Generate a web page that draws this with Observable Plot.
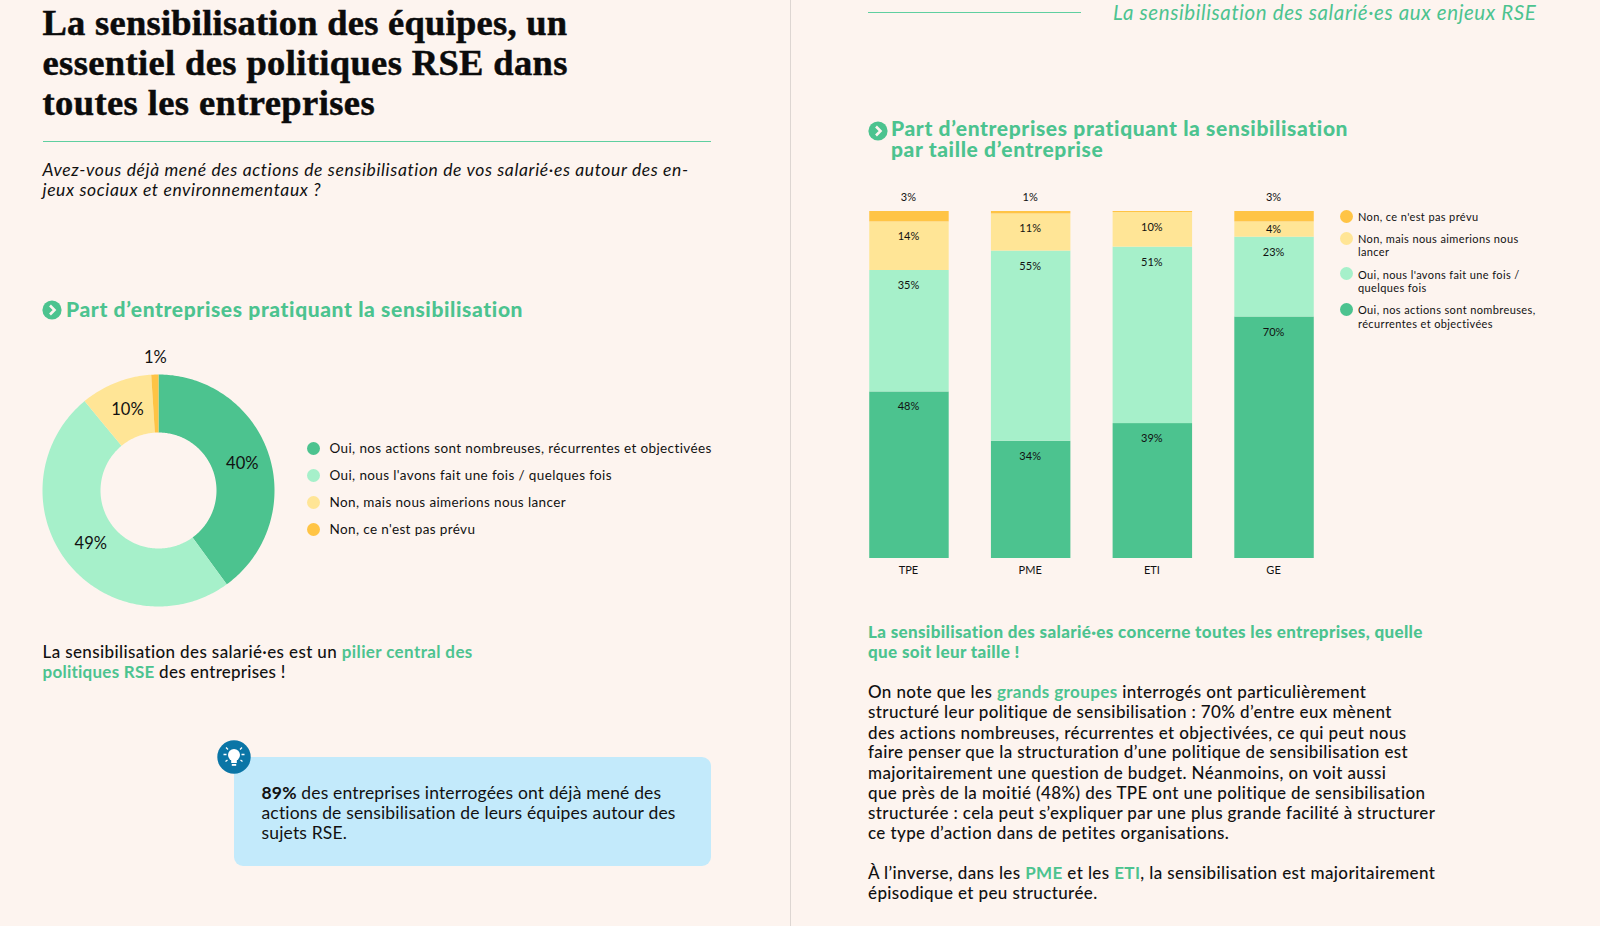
<!DOCTYPE html>
<html lang="fr"><head><meta charset="utf-8">
<script src="https://cdn.jsdelivr.net/npm/d3@7"></script>
<script src="https://cdn.jsdelivr.net/npm/@observablehq/plot@0.6"></script>
<style>
html,body{margin:0;padding:0;background:#FDF4EF;width:1600px;height:926px;overflow:hidden}
body{position:relative;font-family:Lato,sans-serif;color:#111}
.t{position:absolute;white-space:nowrap;transform:translateY(-50%);line-height:1}
.g{color:#4CC38F;font-weight:700}
.abs{position:absolute}
svg{font-family:Lato,sans-serif}
</style></head><body>
<div id="page"></div>
<script>
// ---------- data ----------
const seriesNames = ["Oui, nos actions sont nombreuses, récurrentes et objectivées","Oui, nous l'avons fait une fois / quelques fois","Non, mais nous aimerions nous lancer","Non, ce n'est pas prévu"];
const seriesColors = ["#4CC38F","#A6F0CA","#FFE596","#FFC445"];
const donutValues = [40,49,10,1];
const categories = ["TPE","PME","ETI","GE"];
const valuesOuiNombreuses = [48,33.8,39,69.6];
const valuesOuiUneFois = [35,54.8,51,23];
const valuesNonAimerions = [14,10.7,10,4.4];
const valuesNonPasPrevu = [3,0.7,0.3,3];
const hiddenLabelBelow = 0.5;
const centerLabelBelow = 8;

const page = document.getElementById("page");
function line(x,y,size,html,extra={}){
  const d=document.createElement("div");d.className="t";d.innerHTML=html;
  Object.assign(d.style,{left:x+"px",top:y+"px",fontSize:size+"px"},extra);page.appendChild(d);
  return d;
}
function box(style){const d=document.createElement("div");d.className="abs";Object.assign(d.style,style);page.appendChild(d);return d;}

// ---------- static layout ----------
const serif={fontFamily:"'Liberation Serif',serif",fontWeight:700,letterSpacing:"0.25px",color:"#0b0b0b",webkitTextStroke:"0.5px #0b0b0b"};
line(42.5,23,36.5,"La sensibilisation des équipes, un",serif);
line(42.5,63,36.5,"essentiel des politiques RSE dans",{...serif,letterSpacing:"0.37px"});
line(42.5,103,36.5,"toutes les entreprises",{...serif,letterSpacing:"0.4px"});
box({left:"42.5px",top:"141px",width:"668.5px",height:"1px",background:"#5FCFA0"});
const ital={fontStyle:"italic",letterSpacing:"0.62px"};
line(42.5,169.5,17.5,"Avez-vous déjà mené des actions de sensibilisation de vos salarié·es autour des en-",ital);
line(42.5,189.5,17.5,"jeux sociaux et environnementaux ?",ital);
box({left:"789.5px",top:"0",width:"1px",height:"926px",background:"#DDD6D2"});
box({left:"868px",top:"11.5px",width:"213px",height:"1px",background:"#5FCFA0"});
line(1113,12,20.5,"La sensibilisation des salarié·es aux enjeux RSE",{fontStyle:"italic",color:"#4CC38F",letterSpacing:"0.6px"});

function chevron(cx,cy){
  const s=box({left:(cx-10)+"px",top:(cy-10)+"px",width:"20px",height:"20px"});
  s.innerHTML='<svg width="20" height="20" viewBox="0 0 20 20"><circle cx="10" cy="10" r="9.6" fill="#4CC38F"/><path d="M8 5.5 L12.5 10 L8 14.5" fill="none" stroke="#FDF4EF" stroke-width="2.6"/></svg>';
}
const head={color:"#4CC38F",fontWeight:900,letterSpacing:"0.62px"};
chevron(52,309.5);
line(66,307.5,21,"Part d’entreprises pratiquant la sensibilisation",head);
chevron(877.5,130.5);
line(891,138,21,"Part d’entreprises pratiquant la sensibilisation<br>par taille d’entreprise",{...head,lineHeight:"21px"});

const body={fontWeight:500,letterSpacing:"0.38px"};
line(42.5,650.5,17,'La sensibilisation des salarié·es est un <span class="g">pilier central des</span>',body);
line(42.5,671,17,'<span class="g">politiques RSE</span> des entreprises !',{...body,letterSpacing:"0.25px"});

box({left:"233.8px",top:"756.7px",width:"477.7px",height:"109.5px",background:"#C3EAFB",borderRadius:"9px"});
const bulb=box({left:"217px",top:"740px",width:"34px",height:"34px"});
bulb.innerHTML='<svg width="34" height="34" viewBox="0 0 34 34"><circle cx="17" cy="17" r="16.7" fill="#0A75A6"/><circle cx="17" cy="15" r="6" fill="#fff"/><rect x="14.2" y="19" width="5.6" height="4" fill="#fff"/><rect x="14.8" y="24" width="4.4" height="1.8" fill="#fff"/><g stroke="#fff" stroke-width="1.3" fill="none"><path d="M6.5 14.5h3M24.5 14.5h3M9 7.5l2 2M25 7.5l-2 2M8.5 21.5l2-1.5M25.5 21.5l-2-1.5"/></g></svg>';
const boxText={letterSpacing:"0.17px"};
line(261.5,793,17.5,'<b>89%</b> des entreprises interrogées ont déjà mené des',boxText);
line(261.5,812.7,17.5,'actions de sensibilisation de leurs équipes autour des',boxText);
line(261.5,832.7,17.5,'sujets RSE.',boxText);

const bodyR={fontWeight:500,letterSpacing:"0.38px"};
const headR={color:"#4CC38F",fontWeight:900,letterSpacing:"0.35px"};
line(868,630.5,17,"La sensibilisation des salarié·es concerne toutes les entreprises, quelle",headR);
line(868,651,17,"que soit leur taille !",headR);
[[691,'On note que les <span class="g">grands groupes</span> interrogés ont particulièrement'],
 [711,'structuré leur politique de sensibilisation : 70% d’entre eux mènent'],
 [731.5,'des actions nombreuses, récurrentes et objectivées, ce qui peut nous'],
 [751,'faire penser que la structuration d’une politique de sensibilisation est'],
 [771.5,'majoritairement une question de budget. Néanmoins, on voit aussi'],
 [792,'que près de la moitié (48%) des TPE ont une politique de sensibilisation'],
 [811.5,'structurée : cela peut s’expliquer par une plus grande facilité à structurer'],
 [831.5,'ce type d’action dans de petites organisations.'],
 [871.5,'À l’inverse, dans les <span class="g">PME</span> et les <span class="g">ETI</span>, la sensibilisation est majoritairement'],
 [892,'épisodique et peu structurée.']
].forEach(([y,h])=>line(868,y,17,h,bodyR));

// ---------- legends ----------
function dot(cx,cy,c){box({left:(cx-6.5)+"px",top:(cy-6.5)+"px",width:"13px",height:"13px",borderRadius:"50%",background:c});}
[449,475.7,503,530].forEach((y,i)=>{
  dot(313.5,y-0.5,seriesColors[i]);
  line(329.5,y,13.5,seriesNames[i],{letterSpacing:"0.38px"});
});
const legR=[[3,216.2,["Non, ce n'est pas prévu"]],[2,238,["Non, mais nous aimerions nous","lancer"]],[1,273.5,["Oui, nous l'avons fait une fois /","quelques fois"]],[0,309.2,["Oui, nos actions sont nombreuses,","récurrentes et objectivées"]]];
legR.forEach(([i,y,ls])=>{
  dot(1346,y,seriesColors[i]);
  ls.forEach((s,k)=>line(1358,y+k*13.4,11,s,{letterSpacing:"0.38px"}));
});

// ---------- donut: annular sectors on a polar projection ----------
const OUTER=60, INNER=30;            // degrees of colatitude; inner hole = half the outer radius
const total=d3.sum(donutValues);
let cum=0;
const sectors=donutValues.map((v,i)=>{
  const a0=cum/total*360; cum+=v; const a1=cum/total*360;
  const lon=t=>180-t;
  const n=Math.max(2,Math.ceil(a1-a0));
  const outer=d3.range(n+1).map(k=>[lon(a0+(a1-a0)*k/n),90-OUTER]);
  const inner=d3.range(n+1).map(k=>[lon(a1-(a1-a0)*k/n),90-INNER]);
  const ring=[...outer,...inner,outer[0]];
  const mid=(a0+a1)/2;
  const rLabel=v<3?OUTER*133/116:OUTER*87/116;
  return {name:seriesNames[i],value:v,label:v+"%",lon:lon(mid),lat:90-rLabel,
    type:"Feature",properties:{},geometry:{type:"Polygon",coordinates:[ring]}};
});
const donut=Plot.plot({
  width:320,height:320,margin:0,
  projection:{type:"azimuthal-equidistant",rotate:[0,-90],
    domain:d3.geoCircle().center([0,90]).radius(OUTER*160/116).precision(1)()},
  color:{domain:seriesNames,range:seriesColors},
  marks:[
    Plot.geo(sectors,{fill:d=>d.name}),
    Plot.text(sectors,{x:"lon",y:"lat",text:"label",fontSize:16.5,fill:"#111",dx:1})
  ]
});
Object.assign(donut.style,{position:"absolute",left:"-2px",top:"330px",background:"transparent"});
page.appendChild(donut);

// ---------- stacked bars ----------
const rows=[];
[valuesOuiNombreuses,valuesOuiUneFois,valuesNonAimerions,valuesNonPasPrevu].forEach((vals,s)=>{
  vals.forEach((v,c)=>rows.push({category:categories[c],series:seriesNames[s],value:v,top:s===3,label:Math.round(v)+"%"}));
});
const stack={x:"category",y:"value",offset:"normalize",order:seriesNames,z:"series"};
const txt={dx:-1,fontSize:11,fill:"#111"};
const bars=Plot.plot({
  width:529,height:401,marginLeft:0,marginRight:0,marginTop:31,marginBottom:23,
  x:{domain:categories,padding:0.347,round:false,label:null,axis:null},
  y:{domain:[0,1],axis:null},
  color:{domain:seriesNames,range:seriesColors},
  style:{background:"transparent",fontSize:"11px",fontFamily:"Lato,sans-serif",color:"#111"},
  marks:[
    Plot.barY(rows,Plot.stackY({...stack,fill:"series"})),
    Plot.text(rows,Plot.stackY2({...stack,...txt,dy:15,text:d=>!d.top&&d.value>=centerLabelBelow?d.label:null})),
    Plot.text(rows,Plot.stackY({...stack,...txt,text:d=>!d.top&&d.value<centerLabelBelow?d.label:null})),
    Plot.text(rows,Plot.stackY2({...stack,...txt,dy:-14,text:d=>d.top&&d.value>=hiddenLabelBelow?d.label:null})),
    Plot.axisX({tickSize:0,tickPadding:8,dx:-1,fontSize:11,label:null})
  ]
});
Object.assign(bars.style,{position:"absolute",left:"827px",top:"180px"});
page.appendChild(bars);
</script>
</body></html>
